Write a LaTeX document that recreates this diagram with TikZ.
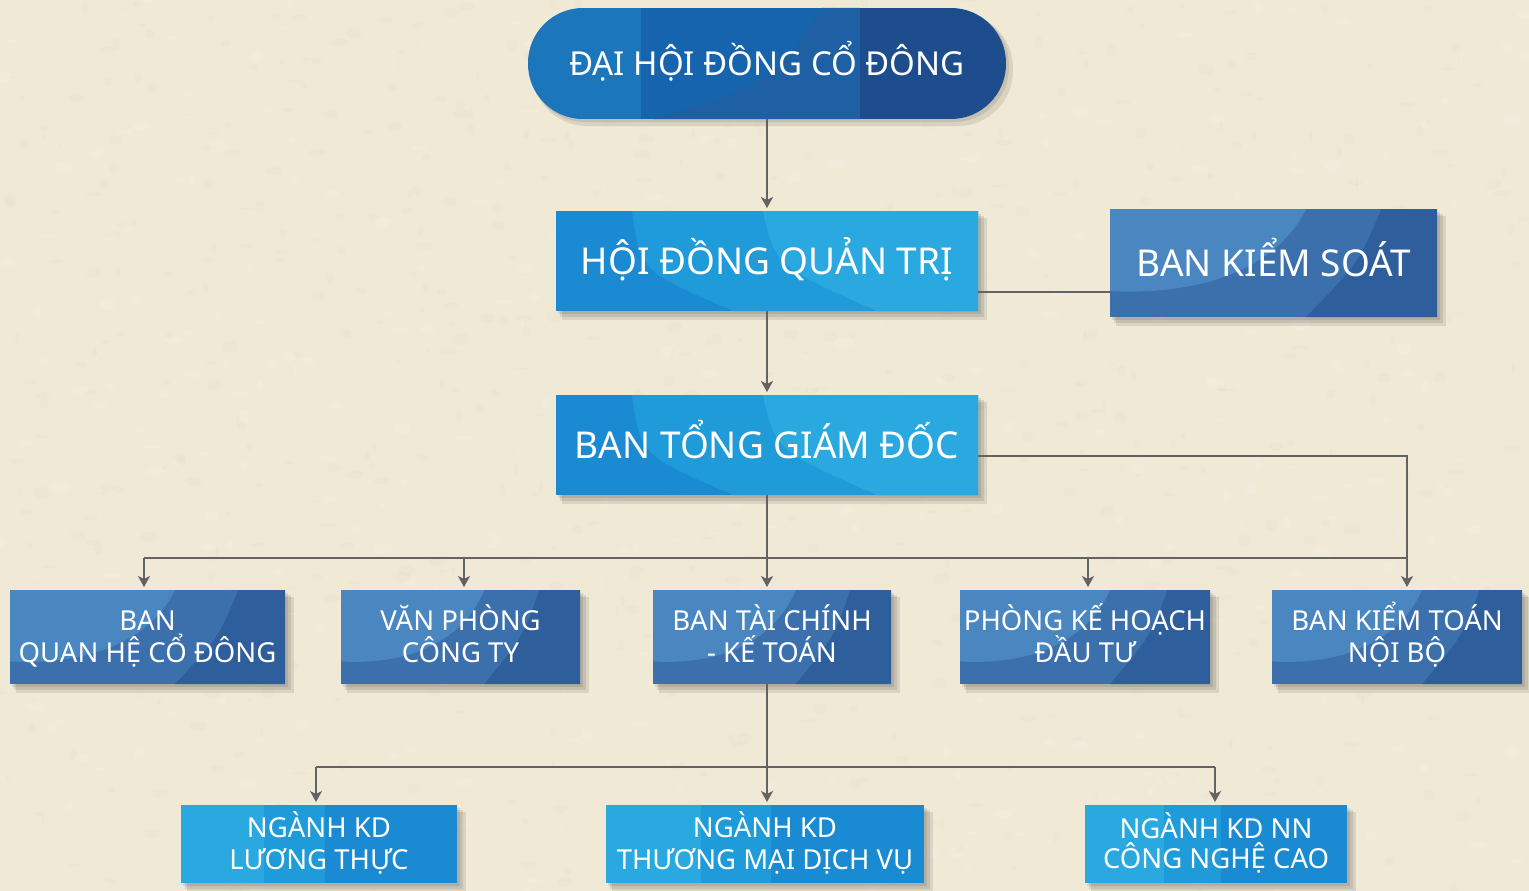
\documentclass[tikz,border=0pt]{standalone}
\usepackage{fontspec}
\setmainfont{Noto Sans}
\usetikzlibrary{arrows.meta,calc}
\definecolor{bg}{HTML}{EFE9D6}
\definecolor{bgdark}{HTML}{DCD2B6}
\definecolor{lineg}{HTML}{636363}
\definecolor{stL}{HTML}{4A86BF}
\definecolor{stM}{HTML}{3B70AC}
\definecolor{stD}{HTML}{2E5E9B}
\definecolor{cyL}{HTML}{2AA9E1}
\definecolor{cyM}{HTML}{1F9BD9}
\definecolor{cyD}{HTML}{1A8BD2}
\definecolor{pL}{HTML}{1B76BC}
\definecolor{pM}{HTML}{1663AE}
\definecolor{pMb}{HTML}{1F5FA4}
\definecolor{pD}{HTML}{1D4D8C}
\tikzset{
  conn/.style={draw=lineg, line width=2.8pt},
  arr/.style={conn, -{Stealth[length=11pt,width=12pt,inset=3pt]}, shorten >=3pt},
  lbl/.style={text=white, align=center, inner sep=0pt, outer sep=0pt},
  shd/.style={fill=black, opacity=0.09},
  toptext/.style={lbl, font=\fontsize{33}{40}\selectfont, text height=23.6pt, text depth=0pt},
  bigtext/.style={lbl, font=\fontsize{37}{42}\selectfont, text height=26.4pt, text depth=0pt},
  rowtext/.style={lbl, font=\fontsize{27.5}{32}\selectfont, text height=51.6pt, text depth=0pt},
  lowtext/.style={lbl, font=\fontsize{27.5}{32}\selectfont, text height=51.6pt, text depth=0pt},
  lowtextb/.style={lbl, font=\fontsize{27.5}{30}\selectfont, text height=49.6pt, text depth=0pt},
}
\newcommand\softshadow[4]{%
  \fill[shd] (#1+2,#2+3) rectangle (#3+3,#4+3);
  \fill[shd] (#1+4,#2+5) rectangle (#3+6,#4+6);
  \fill[shd] (#1+6,#2+7) rectangle (#3+9,#4+9);
}
\newcommand\steelbox[6]{%
  \softshadow{#2}{#3}{#4}{#5}
  \begin{scope}
    \clip (#2,#3) rectangle (#4,#5);
    \fill[stM] (#2,#3) rectangle (#4,#5);
    \fill[stL] (#2,#3) -- ({#2+0.6*(#4-#2)},#3) .. controls ({#2+0.5*(#4-#2)},{#3+0.6*(#5-#3)}) and ({#2+0.25*(#4-#2)},{#3+0.8*(#5-#3)}) .. (#2,{#3+0.76*(#5-#3)}) -- cycle;
    \fill[stD] ({#2+0.83*(#4-#2)},#3) .. controls ({#2+0.76*(#4-#2)},{#3+0.5*(#5-#3)}) .. ({#2+0.6*(#4-#2)},#5) -- (#4,#5) -- (#4,#3) -- cycle;
  \end{scope}
  \node[#6, minimum width={#4-#2}, minimum height={#5-#3}] (#1) at ({(#2+#4)/2},{(#3+#5)/2})
}
\newcommand\cyanbox[6]{%
  \softshadow{#2}{#3}{#4}{#5}
  \begin{scope}
    \clip (#2,#3) rectangle (#4,#5);
    \fill[cyD] (#2,#3) rectangle (#4,#5);
    \fill[cyM] ({#2+0.18*(#4-#2)},#3) .. controls ({#2+0.2*(#4-#2)},{#3+0.6*(#5-#3)}) .. ({#2+0.42*(#4-#2)},#5) -- (#4,#5) -- (#4,#3) -- cycle;
    \fill[cyL] ({#2+0.49*(#4-#2)},#3) .. controls ({#2+0.52*(#4-#2)},{#3+0.55*(#5-#3)}) .. ({#2+0.76*(#4-#2)},#5) -- (#4,#5) -- (#4,#3) -- cycle;
  \end{scope}
  \node[#6, minimum width={#4-#2}, minimum height={#5-#3}] (#1) at ({(#2+#4)/2},{(#3+#5)/2})
}
\newcommand\stripbox[6]{%
  \softshadow{#2}{#3}{#4}{#5}
  \fill[cyL] (#2,#3) rectangle ({#2+0.3*(#4-#2)},#5);
  \fill[cyM] ({#2+0.3*(#4-#2)},#3) rectangle ({#2+0.52*(#4-#2)},#5);
  \fill[cyD] ({#2+0.52*(#4-#2)},#3) rectangle (#4,#5);
  \node[#6, minimum width={#4-#2}, minimum height={#5-#3}] (#1) at ({(#2+#4)/2},{(#3+#5)/2})
}
\begin{document}
\begin{tikzpicture}[x=1pt,y=-1pt]
\useasboundingbox (0,0) rectangle (1529,891);
\fill[bg] (0,0) rectangle (1529,891);
\pgfmathsetseed{7}
\foreach \i in {1,...,700}{
  \fill[bgdark, opacity=0.10] ({rnd*1529},{rnd*891}) ellipse ({1+rnd*8} and {1+rnd*5});
}
\foreach \i in {1,...,400}{
  \fill[white, opacity=0.12] ({rnd*1529},{rnd*891}) ellipse ({1+rnd*9} and {1+rnd*5});
}

% top pill
\fill[shd, rounded corners=55pt] (532,13) rectangle (1013,126);
\fill[shd, rounded corners=55pt] (530,10) rectangle (1009,122);
\begin{scope}
  \clip[rounded corners=55pt] (528,8) rectangle (1006,119);
  \fill[pL] (528,8) rectangle (641,119);
  \fill[pM] (641,8) rectangle (860,119);
  \fill[pMb] (822,8) .. controls (770,85) .. (653,119) -- (860,119) -- (860,8) -- cycle;
  \fill[pD] (860,8) rectangle (1006,119);
\end{scope}
\node[toptext, minimum width=478, minimum height=111] (dhcd) at (767,63.5) {ĐẠI HỘI ĐỒNG CỔ ĐÔNG};

% level 2
\cyanbox{hdqt}{556}{211}{978}{311}{bigtext} {HỘI ĐỒNG QUẢN TRỊ};
\steelbox{bks}{1110}{209}{1437}{317}{bigtext} {BAN KIỂM SOÁT};
\cyanbox{btgd}{556}{395}{978}{495}{bigtext} {BAN TỔNG GIÁM ĐỐC};

% level 3
\steelbox{qhcd}{10}{590}{285}{684}{rowtext} {BAN\\QUAN HỆ CỔ ĐÔNG};
\steelbox{vp}{341}{590}{580}{684}{rowtext} {VĂN PHÒNG\\CÔNG TY};
\steelbox{tckt}{653}{590}{891}{684}{rowtext} {BAN TÀI CHÍNH\\- KẾ TOÁN};
\steelbox{pkh}{960}{590}{1210}{684}{rowtext} {PHÒNG KẾ HOẠCH\\ĐẦU TƯ};
\steelbox{ktnb}{1272}{590}{1522}{684}{rowtext} {BAN KIỂM TOÁN\\NỘI BỘ};

% level 4
\stripbox{lt}{181}{805}{457}{883}{lowtext} {NGÀNH KD\\LƯƠNG THỰC};
\stripbox{tm}{606}{805}{924}{883}{lowtext} {NGÀNH KD\\THƯƠNG MẠI DỊCH VỤ};
\stripbox{nn}{1085}{805}{1347}{883}{lowtextb} {NGÀNH KD NN\\CÔNG NGHỆ CAO};

% connectors
\coordinate (b1) at (144,558);
\coordinate (b2) at (464,558);
\coordinate (b3) at (767,558);
\coordinate (b4) at (1088,558);
\coordinate (b5) at (1407,558);
\coordinate (c1) at (316,767);
\coordinate (c2) at (767,767);
\coordinate (c3) at (1215,767);

\draw[arr] (dhcd.south) -- (hdqt.north);
\draw[conn] ([yshift=-31pt]hdqt.east) -- ([yshift=-31pt]hdqt.east -| bks.west);
\draw[arr] (hdqt.south) -- (btgd.north);
\draw[arr] ([yshift=-11pt]btgd.east) -| (b5 |- ktnb.north);
\draw[conn] (btgd.south) -- (b3);
\draw[conn] (b1) -- (b5);
\draw[arr] (b1) -- (b1 |- qhcd.north);
\draw[arr] (b2) -- (b2 |- vp.north);
\draw[arr] (b3) -- (b3 |- tckt.north);
\draw[arr] (b4) -- (b4 |- pkh.north);
\draw[conn] (c2 |- tckt.south) -- (c2);
\draw[conn] (c1) -- (c3);
\draw[arr] (c1) -- (c1 |- lt.north);
\draw[arr] (c2) -- (c2 |- tm.north);
\draw[arr] (c3) -- (c3 |- nn.north);
\end{tikzpicture}
\end{document}
